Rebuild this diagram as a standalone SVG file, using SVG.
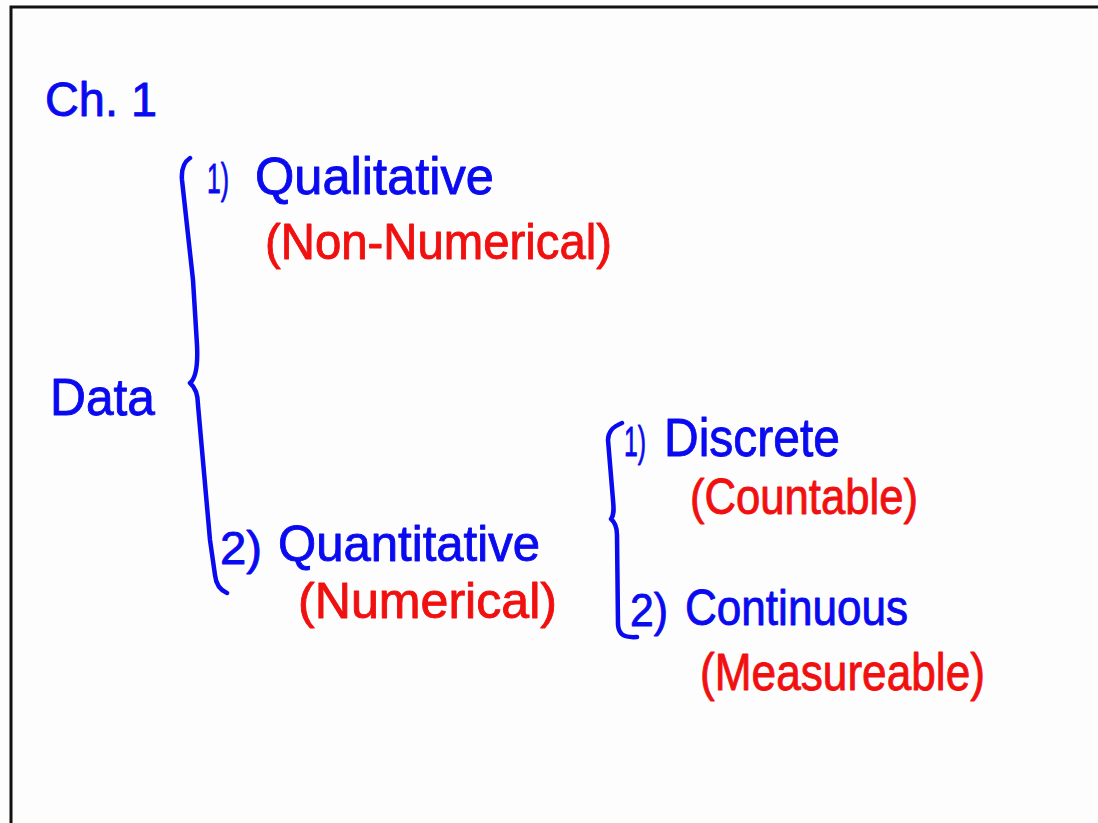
<svg xmlns="http://www.w3.org/2000/svg" width="1098" height="823" viewBox="0 0 1098 823">
  <style>
    .ink { font-family: "Liberation Sans", Arial, sans-serif; stroke-width: 0.9; stroke-linejoin: round; }
    .blue { fill: #0a0af0; stroke: #0a0af0; }
    .red { fill: #f01010; stroke: #f01010; }
    .brace { fill: none; stroke: #0a0af0; stroke-width: 4.5; stroke-linecap: round; stroke-linejoin: round; }
  </style>
  <rect x="0" y="0" width="1098" height="823" fill="#fdfdfd"/>
  <!-- page frame -->
  <path d="M11,823 L11,7 L1098,7" fill="none" stroke="#111" stroke-width="3"/>

  <g id="title">
    <text class="ink blue" x="45" y="116" font-size="48" textLength="112" lengthAdjust="spacingAndGlyphs">Ch. 1</text>
  </g>

  <g id="data">
    <text class="ink blue" x="50" y="415" font-size="52" textLength="105" lengthAdjust="spacingAndGlyphs">Data</text>
  </g>

  <g id="qualitative">
    <text class="ink blue" x="207" y="193" font-size="42" textLength="22" lengthAdjust="spacingAndGlyphs">1)</text>
    <text class="ink blue" x="255" y="194" font-size="52" textLength="239" lengthAdjust="spacingAndGlyphs">Qualitative</text>
    <text class="ink red" x="265" y="259" font-size="50" textLength="347" lengthAdjust="spacingAndGlyphs">(Non-Numerical)</text>
  </g>

  <g id="quantitative">
    <text class="ink blue" x="220" y="564" font-size="46" textLength="42" lengthAdjust="spacingAndGlyphs">2)</text>
    <text class="ink blue" x="278" y="561" font-size="50" textLength="262" lengthAdjust="spacingAndGlyphs">Quantitative</text>
    <text class="ink red" x="298" y="618" font-size="50" textLength="259" lengthAdjust="spacingAndGlyphs">(Numerical)</text>
  </g>

  <g id="discrete">
    <text class="ink blue" x="624" y="456" font-size="42" textLength="22" lengthAdjust="spacingAndGlyphs">1)</text>
    <text class="ink blue" x="664" y="456" font-size="54" textLength="176" lengthAdjust="spacingAndGlyphs">Discrete</text>
    <text class="ink red" x="690" y="514" font-size="50" textLength="228" lengthAdjust="spacingAndGlyphs">(Countable)</text>
  </g>

  <g id="continuous">
    <text class="ink blue" x="630" y="626" font-size="46" textLength="38" lengthAdjust="spacingAndGlyphs">2)</text>
    <text class="ink blue" x="685" y="625" font-size="50" textLength="223" lengthAdjust="spacingAndGlyphs">Continuous</text>
    <text class="ink red" x="700" y="690" font-size="52" textLength="285" lengthAdjust="spacingAndGlyphs">(Measureable)</text>
  </g>

  <g id="connectors">
    <!-- brace: Data -> Qualitative / Quantitative -->
    <path class="brace" d="M190,158 C184,162 181,168 182,180 L193,280 L197,345 C198,365 196,378 190,383 C196,388 198,395 198,405 L210,540 L215,575 C216,585 220,590 227,593"/>
    <!-- brace: Quantitative -> Discrete / Continuous -->
    <path class="brace" d="M622,423 C612,427 608,432 608,440 L613,500 C614,510 614,515 611,519 C616,523 617,528 617,535 L618,625 C619,634 623,638 637,637"/>
  </g>
</svg>
